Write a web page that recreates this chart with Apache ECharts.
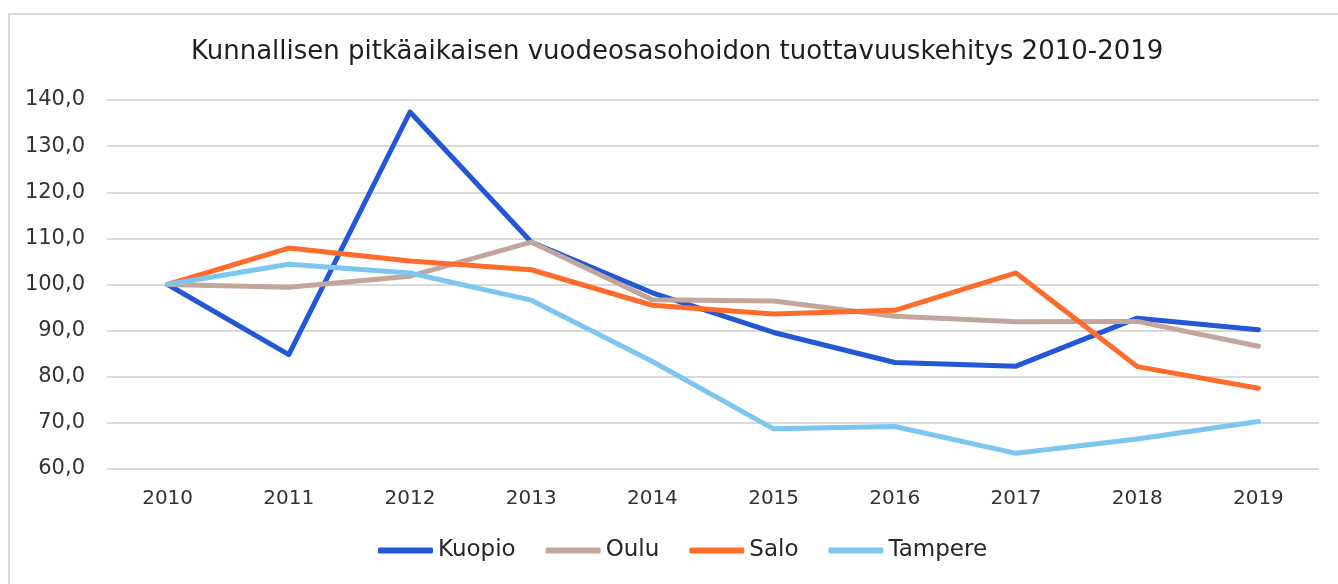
<!DOCTYPE html>
<html>
<head>
<meta charset="utf-8">
<script src="https://cdn.jsdelivr.net/npm/echarts@6/dist/echarts.min.js"></script>
<style>
html,body{margin:0;padding:0;background:#fff;}
#frame{position:absolute;left:8px;top:13px;width:1340px;height:580px;border:2px solid #d9d9d9;box-sizing:border-box;}
#chart{position:absolute;left:0;top:0;width:1338px;height:584px;}
</style>
</head>
<body>
<div id="frame"></div>
<div id="chart"></div>
<script>
const titleText = "Kunnallisen pitkäaikaisen vuodeosasohoidon tuottavuuskehitys 2010-2019";
const years = ["2010","2011","2012","2013","2014","2015","2016","2017","2018","2019"];
const kuopio  = [100.0, 84.8, 137.4, 109.2, 98.2, 89.6, 83.1, 82.3, 92.7, 90.2];
const oulu    = [100.0, 99.4, 101.8, 109.2, 96.7, 96.4, 93.1, 91.9, 92.0, 86.6];
const salo    = [100.0, 107.9, 105.1, 103.2, 95.5, 93.6, 94.4, 102.5, 82.2, 77.5];
const tampere = [100.0, 104.4, 102.5, 96.6, 83.3, 68.7, 69.2, 63.4, 66.5, 70.3];
const seriesNames = ["Kuopio","Oulu","Salo","Tampere"];
const seriesColors = ["#2457D6","#C4A59B","#FF6B2B","#7DC6EF"];
const yMin = 60, yMax = 140, yStep = 10;

const FONT = "DejaVu Sans";
const chart = echarts.init(document.getElementById('chart'));
const data = [kuopio, oulu, salo, tampere];
chart.setOption({
  animation:false,
  title:{text:titleText,left:186,top:34,textStyle:{fontFamily:FONT,fontSize:26,fontWeight:'normal',color:'#1f1f1f'}},
  grid:{left:107,right:19,top:100,bottom:115},
  legend:{
    data:seriesNames, bottom:17, left:373,
    icon:'roundRect', itemWidth:55, itemHeight:6, itemGap:30,
    textStyle:{fontFamily:FONT,fontSize:23,color:'#262626'}
  },
  xAxis:{
    type:'category', data:years, boundaryGap:true,
    axisLine:{show:false}, axisTick:{show:false},
    axisLabel:{fontFamily:FONT,fontSize:20,color:'#333',margin:20}
  },
  yAxis:{
    type:'value', min:yMin, max:yMax, interval:yStep,
    axisLine:{show:false}, axisTick:{show:false},
    splitLine:{lineStyle:{color:'#d9d9d9',width:2}},
    axisLabel:{fontFamily:FONT,fontSize:21,color:'#333',margin:22,formatter:v=>v.toFixed(1).replace('.',',')}
  },
  series: seriesNames.map((n,i)=>({
    name:n, type:'line', data:data[i], symbol:'none', smooth:false,
    lineStyle:{color:seriesColors[i],width:5,cap:'round',join:'round'},
    itemStyle:{color:seriesColors[i]}
  }))
});
</script>
</body>
</html>
